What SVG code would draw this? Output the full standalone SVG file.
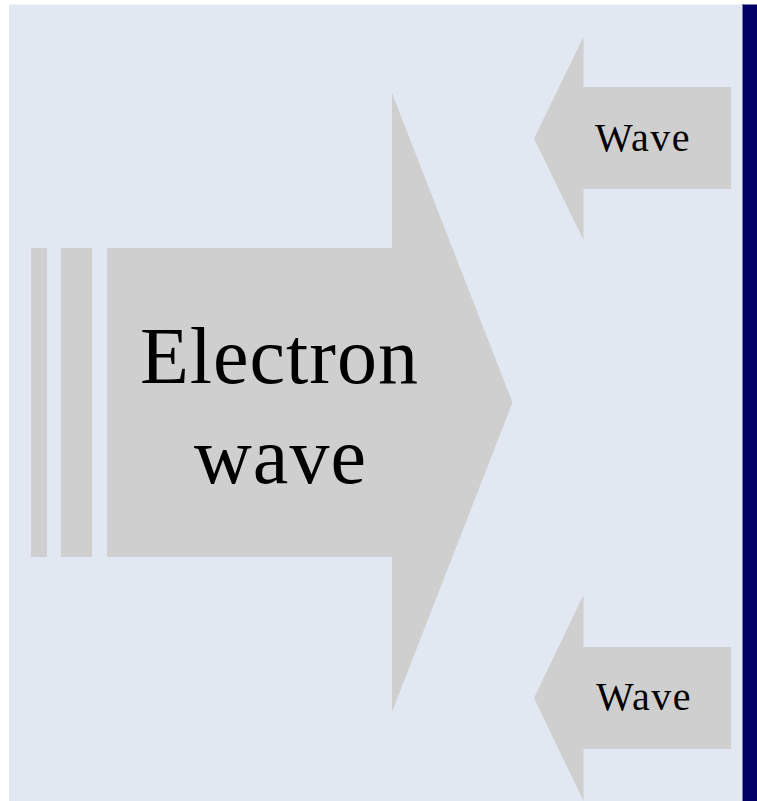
<svg xmlns="http://www.w3.org/2000/svg" width="757" height="801" viewBox="0 0 757 801">
  <style>
    .shape { fill: #CFCFCF; stroke: none; }
    .lbl { font-family: "Liberation Serif", "Times New Roman", serif; fill: #000000; text-anchor: middle; }
    .big { font-size: 80px; letter-spacing: 1px; }
    .small { font-size: 40px; letter-spacing: 1.5px; }
  </style>
  <rect x="0" y="0" width="757" height="801" fill="#FFFFFF"/>
  <rect id="background" x="9" y="4.5" width="734" height="797" fill="#E1E8F2"/>
  <rect id="wall" x="742" y="4.5" width="15" height="797" fill="#000066"/>
  <line x1="742.5" y1="4.5" x2="742.5" y2="801" stroke="#7C7CA8" stroke-width="1"/>
  <g id="electron-wave">
    <rect class="shape" x="31" y="248" width="16" height="309"/>
    <rect class="shape" x="61" y="248" width="31" height="309"/>
    <polygon class="shape" points="107,248 392,248 392,93 512.5,402.5 392,712 392,557 107,557"/>
    <text class="lbl big" x="279.5" y="383">Electron</text>
    <text class="lbl big" x="280.5" y="483">wave</text>
  </g>
  <g id="wave-top">
    <polygon class="shape" points="731,87 583.5,87 583.5,37 534,138.5 583.5,240 583.5,189 731,189"/>
    <text class="lbl small" x="643" y="151">Wave</text>
  </g>
  <g id="wave-bottom">
    <polygon class="shape" points="731,647 583.5,647 583.5,595 534,698 583.5,801 583.5,749 731,749"/>
    <text class="lbl small" x="644" y="710">Wave</text>
  </g>
  <g id="connectors"></g>
</svg>
